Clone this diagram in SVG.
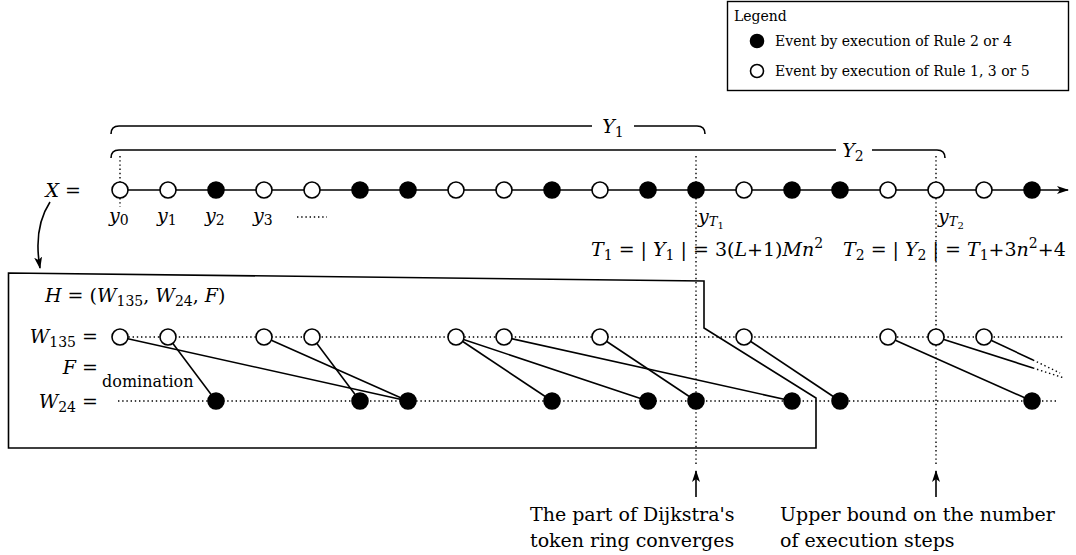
<svg xmlns="http://www.w3.org/2000/svg" width="1076" height="555" viewBox="0 0 1076 555">
  <defs>
    <style>
      text { font-family: "DejaVu Serif", "Liberation Serif", serif; fill: #000; }
      .lg { font-size: 14px; }
      .m { font-size: 19px; }
      .i { font-style: italic; }
      .s { font-size: 14px; font-style: normal; }
      .ss { font-size: 10px; font-style: normal; }
      .lbl { font-size: 16px; }
      .note { font-size: 19px; }
      .ln { fill: none; stroke: #000; stroke-width: 1.6; }
      .dot { fill: none; stroke: #000; stroke-width: 1.4; stroke-dasharray: 1.4 2.8; }
      .open { fill: #fff; stroke: #000; stroke-width: 1.6; }
      .full { fill: #000; stroke: #000; stroke-width: 1.6; }
    </style>
    <marker id="tip" viewBox="0 0 12 8" refX="11" refY="4" markerWidth="12" markerHeight="8" markerUnits="userSpaceOnUse" orient="auto">
      <path d="M0,0 L12,4 L0,8 L3,4 Z" fill="#000"/>
    </marker>
  </defs>

  <!-- legend -->
  <g id="legend">
    <rect x="727.5" y="1.5" width="341" height="89" fill="#fff" stroke="#000" stroke-width="1.4"/>
    <text class="lg" x="734" y="21">Legend</text>
    <circle class="full" cx="757" cy="41" r="6.5"/>
    <text class="lg" x="775" y="46">Event by execution of Rule 2 or 4</text>
    <circle class="open" cx="757" cy="71" r="6.5"/>
    <text class="lg" x="775" y="76">Event by execution of Rule 1, 3 or 5</text>
  </g>

  <!-- spans Y1 and Y2 -->
  <g id="span-Y1">
    <path class="ln" d="M111,134 Q111,126 119,126 H592 M634,126 H697 Q705,126 705,134"/>
    <text class="m i" x="613" y="133" text-anchor="middle">Y<tspan class="s" dy="4">1</tspan></text>
  </g>
  <g id="span-Y2">
    <path class="ln" d="M111,158 Q111,150 119,150 H836 M872,150 H937 Q945,150 945,158"/>
    <text class="m i" x="853" y="157" text-anchor="middle">Y<tspan class="s" dy="4">2</tspan></text>
  </g>

  <!-- connectors -->
  <g id="connectors">
    <!-- guide lines -->
    <path class="dot" d="M120,156 V207"/>
    <path class="dot" d="M696,156 V466"/>
    <path class="dot" d="M936,156 V466"/>
    <path class="dot" d="M120,337 H1064"/>
    <path class="dot" d="M118,401 H1058"/>
    <!-- sequence X -->
    <path class="ln" d="M120,190 H1068" marker-end="url(#tip)"/>
    <!-- X to H -->
    <path class="ln" d="M50,202 Q33,228 40,268" marker-end="url(#tip)"/>
    <!-- domination edges W135 to W24 -->
    <g class="ln">
      <line x1="120" y1="337" x2="408" y2="401"/>
      <line x1="168" y1="337" x2="216" y2="401"/>
      <line x1="264" y1="337" x2="408" y2="401"/>
      <line x1="312" y1="337" x2="360" y2="401"/>
      <line x1="456" y1="337" x2="552" y2="401"/>
      <line x1="456" y1="337" x2="648" y2="401"/>
      <line x1="504" y1="337" x2="792" y2="401"/>
      <line x1="600" y1="337" x2="696" y2="401"/>
      <line x1="744" y1="337" x2="840" y2="401"/>
      <line x1="888" y1="337" x2="1032" y2="401"/>
      <line x1="936" y1="337" x2="1033" y2="368"/>
      <line x1="984" y1="337" x2="1033" y2="360"/>
    </g>
    <path class="dot" d="M1033,368 L1064,378 M1033,360 L1060,373"/>
    <!-- pointers to notes -->
    <path class="ln" d="M696,497 V471" marker-end="url(#tip)"/>
    <path class="ln" d="M936,497 V471" marker-end="url(#tip)"/>
  </g>

  <!-- sequence X of events -->
  <g id="X">
    <text class="m" x="81" y="197" text-anchor="end"><tspan class="i">X</tspan> =</text>
    <circle class="open" cx="120" cy="190" r="8"/>
    <circle class="open" cx="168" cy="190" r="8"/>
    <circle class="full" cx="216" cy="190" r="8"/>
    <circle class="open" cx="264" cy="190" r="8"/>
    <circle class="open" cx="312" cy="190" r="8"/>
    <circle class="full" cx="360" cy="190" r="8"/>
    <circle class="full" cx="408" cy="190" r="8"/>
    <circle class="open" cx="456" cy="190" r="8"/>
    <circle class="open" cx="504" cy="190" r="8"/>
    <circle class="full" cx="552" cy="190" r="8"/>
    <circle class="open" cx="600" cy="190" r="8"/>
    <circle class="full" cx="648" cy="190" r="8"/>
    <circle class="full" cx="696" cy="190" r="8"/>
    <circle class="open" cx="744" cy="190" r="8"/>
    <circle class="full" cx="792" cy="190" r="8"/>
    <circle class="full" cx="840" cy="190" r="8"/>
    <circle class="open" cx="888" cy="190" r="8"/>
    <circle class="open" cx="936" cy="190" r="8"/>
    <circle class="open" cx="984" cy="190" r="8"/>
    <circle class="full" cx="1032" cy="190" r="8"/>
    <g class="m">
      <text x="109" y="222"><tspan class="i">y</tspan><tspan class="s" dy="3">0</tspan></text>
      <text x="157" y="222"><tspan class="i">y</tspan><tspan class="s" dy="3">1</tspan></text>
      <text x="205" y="222"><tspan class="i">y</tspan><tspan class="s" dy="3">2</tspan></text>
      <text x="253" y="222"><tspan class="i">y</tspan><tspan class="s" dy="3">3</tspan></text>
    </g>
    <path class="dot" d="M297,217 H327" stroke-dasharray="1 3.2"/>
  </g>

  <!-- bounds T1 and T2 -->
  <g id="T1">
    <text class="m" x="698" y="223"><tspan class="i">y</tspan><tspan class="i" dy="3" font-size="13">T</tspan><tspan class="ss" dy="3">1</tspan></text>
    <text class="m" x="591" y="256"><tspan class="i">T</tspan><tspan class="s" dy="4">1</tspan><tspan dy="-4"> = | </tspan><tspan class="i">Y</tspan><tspan class="s" dy="4">1</tspan><tspan dy="-4"> | = 3(</tspan><tspan class="i">L</tspan>+1)<tspan class="i">Mn</tspan><tspan class="s" dy="-8">2</tspan></text>
  </g>
  <g id="T2">
    <text class="m" x="938" y="223"><tspan class="i">y</tspan><tspan class="i" dy="3" font-size="13">T</tspan><tspan class="ss" dy="3">2</tspan></text>
    <text class="m" x="843" y="256"><tspan class="i">T</tspan><tspan class="s" dy="4">2</tspan><tspan dy="-4"> = | </tspan><tspan class="i">Y</tspan><tspan class="s" dy="4">2</tspan><tspan dy="-4"> | = </tspan><tspan class="i">T</tspan><tspan class="s" dy="4">1</tspan><tspan dy="-4">+3</tspan><tspan class="i">n</tspan><tspan class="s" dy="-8">2</tspan><tspan dy="8">+4</tspan></text>
  </g>

  <!-- graph H -->
  <g id="H">
    <polygon points="8.5,273 704,281 704,328 816,398 816,448 8.5,448" fill="none" stroke="#000" stroke-width="1.6"/>
    <text class="m" x="45" y="302"><tspan class="i">H</tspan> = (<tspan class="i">W</tspan><tspan class="s" dy="4">135</tspan><tspan dy="-4">, </tspan><tspan class="i">W</tspan><tspan class="s" dy="4">24</tspan><tspan dy="-4">, </tspan><tspan class="i">F</tspan>)</text>
    <text class="m" x="98" y="343" text-anchor="end"><tspan class="i">W</tspan><tspan class="s" dy="4">135</tspan><tspan dy="-4"> =</tspan></text>
    <text class="m" x="98" y="374" text-anchor="end"><tspan class="i">F</tspan> =</text>
    <text class="lbl" x="102" y="387">domination</text>
    <text class="m" x="98" y="408" text-anchor="end"><tspan class="i">W</tspan><tspan class="s" dy="4">24</tspan><tspan dy="-4"> =</tspan></text>
  </g>
  <g id="W135">
    <circle class="open" cx="120" cy="337" r="8"/>
    <circle class="open" cx="168" cy="337" r="8"/>
    <circle class="open" cx="264" cy="337" r="8"/>
    <circle class="open" cx="312" cy="337" r="8"/>
    <circle class="open" cx="456" cy="337" r="8"/>
    <circle class="open" cx="504" cy="337" r="8"/>
    <circle class="open" cx="600" cy="337" r="8"/>
    <circle class="open" cx="744" cy="337" r="8"/>
    <circle class="open" cx="888" cy="337" r="8"/>
    <circle class="open" cx="936" cy="337" r="8"/>
    <circle class="open" cx="984" cy="337" r="8"/>
  </g>
  <g id="W24">
    <circle class="full" cx="216" cy="401" r="8"/>
    <circle class="full" cx="360" cy="401" r="8"/>
    <circle class="full" cx="408" cy="401" r="8"/>
    <circle class="full" cx="552" cy="401" r="8"/>
    <circle class="full" cx="648" cy="401" r="8"/>
    <circle class="full" cx="696" cy="401" r="8"/>
    <circle class="full" cx="792" cy="401" r="8"/>
    <circle class="full" cx="840" cy="401" r="8"/>
    <circle class="full" cx="1032" cy="401" r="8"/>
  </g>

  <!-- notes -->
  <g id="note-converge">
    <text class="note" x="530" y="521">The part of Dijkstra's</text>
    <text class="note" x="530" y="547">token ring converges</text>
  </g>
  <g id="note-bound">
    <text class="note" x="780" y="521">Upper bound on the number</text>
    <text class="note" x="780" y="547">of execution steps</text>
  </g>
</svg>
